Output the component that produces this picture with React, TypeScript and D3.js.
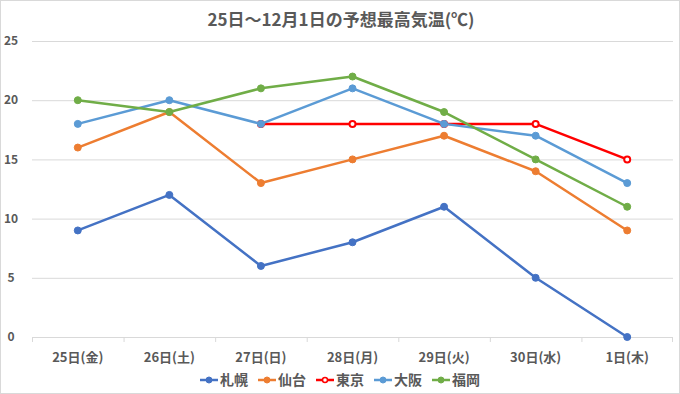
import React from "react";
import { scaleBand, scaleLinear, line } from "d3";

const categories = ["25日(金)", "26日(土)", "27日(日)", "28日(月)", "29日(火)", "30日(水)", "1日(木)"];
const cities = ["札幌", "仙台", "東京", "大阪", "福岡"];
const colors = ["#4472C4", "#ED7D31", "#FF0000", "#5B9BD5", "#70AD47"];

const sapporo = [9, 12, 6, 8, 11, 5, 0];
const sendai = [16, 19, 13, 15, 17, 14, 9];
const tokyo = [null, null, 18, 18, 18, 18, 15];
const osaka = [18, 20, 18, 21, 18, 17, 13];
const fukuoka = [20, 19, 21, 22, 19, 15, 11];

const yTicks = [0, 5, 10, 15, 20, 25];

const series = [sapporo, sendai, tokyo, osaka, fukuoka];

const width = 680;
const height = 394;
const font = "'Noto Sans CJK JP', 'Noto Sans', sans-serif";
const gray = "#595959";

const App = () => {
  const x = scaleBand().domain(categories).range([32, 673]);
  const y = scaleLinear().domain([0, 25]).range([337, 41]);
  const cx = (c: string) => (x(c) as number) + x.bandwidth() / 2;

  const path = line<number | null>()
    .defined((d) => d !== null)
    .x((_, i) => cx(categories[i]))
    .y((d) => y(d as number));

  return (
    <svg
      width={width}
      height={height}
      style={{ position: "absolute", left: 0, top: 0, background: "#fff" }}
    >
      <rect x={0.5} y={0.5} width={width - 1} height={height - 1} fill="#fff" stroke="#d9d9d9" />
      <text
        x={341}
        y={26}
        textAnchor="middle"
        fontFamily={font}
        fontWeight="bold"
        fontSize={17}
        fill={gray}
      >
        25日～12月1日の予想最高気温(℃)
      </text>

      {yTicks.map((t) => (
        <g key={t}>
          <line x1={32} x2={673} y1={y(t) + 0.5} y2={y(t) + 0.5} stroke="#d9d9d9" />
          <text
            x={11}
            y={y(t)}
            dy="0.35em"
            textAnchor="middle"
            fontFamily={font}
            fontWeight="bold"
            fontSize={12}
            fill={gray}
          >
            {t}
          </text>
        </g>
      ))}

      {categories.map((c) => (
        <line
          key={"t" + c}
          x1={(x(c) as number) + 0.5}
          x2={(x(c) as number) + 0.5}
          y1={y(0)}
          y2={y(0) + 5}
          stroke="#d9d9d9"
        />
      ))}
      <line x1={672.5} x2={672.5} y1={y(0)} y2={y(0) + 5} stroke="#d9d9d9" />

      {categories.map((c) => (
        <text
          key={"l" + c}
          x={cx(c)}
          y={357}
          dy="0.35em"
          textAnchor="middle"
          fontFamily={font}
          fontWeight="bold"
          fontSize={13}
          fill={gray}
        >
          {c}
        </text>
      ))}

      {series.map((s, si) => (
        <g key={cities[si]}>
          <path d={path(s) || ""} fill="none" stroke={colors[si]} strokeWidth={2.5} strokeLinejoin="round" />
          {s.map((v, i) =>
            v === null ? null : (
              <circle
                key={i}
                cx={cx(categories[i])}
                cy={y(v)}
                r={si === 2 ? 3 : 3.5}
                fill={si === 2 ? "#fff" : colors[si]}
                stroke={colors[si]}
                strokeWidth={si === 2 ? 2 : 1}
              />
            )
          )}
        </g>
      ))}

      {cities.map((name, i) => {
        const lx = 200 + i * 58;
        return (
          <g key={"lg" + name}>
            <line x1={lx} x2={lx + 18} y1={380} y2={380} stroke={colors[i]} strokeWidth={2.5} />
            <circle
              cx={lx + 9}
              cy={380}
              r={i === 2 ? 2.5 : 3}
              fill={i === 2 ? "#fff" : colors[i]}
              stroke={colors[i]}
              strokeWidth={i === 2 ? 1.5 : 1}
            />
            <text
              x={lx + 20}
              y={380}
              dy="0.35em"
              fontFamily={font}
              fontWeight="bold"
              fontSize={14}
              fill={gray}
            >
              {name}
            </text>
          </g>
        );
      })}
    </svg>
  );
};

export default App;
